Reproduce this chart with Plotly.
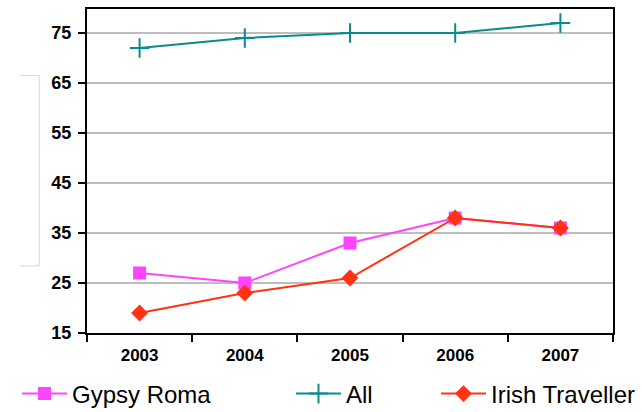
import plotly.graph_objects as go

years = ["2003", "2004", "2005", "2006", "2007"]
gypsy_roma = [27, 25, 33, 38, 36]
all_pupils = [72, 74, 75, 75, 77]
irish_traveller = [19, 23, 26, 38, 36]
y_ticks = [15, 25, 35, 45, 55, 65, 75]

fig = go.Figure()
fig.add_trace(go.Scatter(
    x=years, y=gypsy_roma, name="Gypsy Roma", mode="lines+markers", legend="legend",
    line=dict(color="#FF44FF", width=2),
    marker=dict(symbol="square", size=13, color="#FF44FF"),
))
fig.add_trace(go.Scatter(
    x=years, y=all_pupils, name="All", mode="lines+markers", legend="legend2",
    line=dict(color="#0A8C8C", width=2),
    marker=dict(symbol="cross-thin", size=14, line=dict(color="#0A8C8C", width=2)),
))
fig.add_trace(go.Scatter(
    x=years, y=irish_traveller, name="Irish Traveller", mode="lines+markers", legend="legend3",
    line=dict(color="#FF3311", width=2),
    marker=dict(symbol="diamond", size=13, color="#FF3311"),
))

leg_common = dict(orientation="h", xref="container", yref="container", xanchor="left",
                  y=(412 - 394) / 412, yanchor="middle", font=dict(size=24),
                  itemwidth=45, bgcolor="rgba(0,0,0,0)")

fig.update_layout(
    width=642, height=412,
    margin=dict(l=87, r=29, t=9, b=79, autoexpand=False),
    paper_bgcolor="white", plot_bgcolor="white",
    font=dict(family="Liberation Sans, Arial, sans-serif", color="black"),
    showlegend=True,
    legend=dict(leg_common, x=17 / 642),
    legend2=dict(leg_common, x=291 / 642),
    legend3=dict(leg_common, x=436 / 642),
    xaxis=dict(type="category", tickson="boundaries", ticks="outside", ticklen=7,
               tickwidth=2, tickcolor="black", showline=True, linecolor="black",
               linewidth=2, mirror=True, showgrid=False, automargin=False,
               ticklabelstandoff=6,
               tickfont=dict(size=17, family="Liberation Sans, Arial", weight="bold"),
               range=[-0.5, 4.5]),
    yaxis=dict(range=[15, 79.8], tickvals=y_ticks, ticks="outside", ticklen=7,
               tickwidth=2, tickcolor="black", showline=True, linecolor="black",
               linewidth=2, mirror=True, showgrid=True, gridcolor="#BDBDBD", gridwidth=2,
               zeroline=False, automargin=False, ticklabelstandoff=3,
               tickfont=dict(size=18, family="Liberation Sans, Arial", weight="bold")),
)

# faint stray bracket at left of chart
fig.add_shape(type="path", xref="paper", yref="paper",
              path="M -0.127 0.795 L -0.091 0.795 L -0.091 0.207 L -0.127 0.207",
              line=dict(color="#D8D8D8", width=1))

fig.write_html("out.html", config={"displayModeBar": False},
               post_script="document.body.style.margin='0';")
